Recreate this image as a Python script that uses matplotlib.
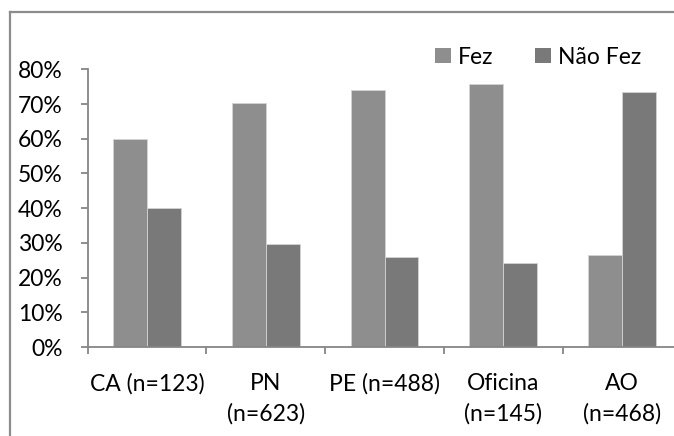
import matplotlib
matplotlib.use("Agg")
import matplotlib.pyplot as plt
import numpy as np
from matplotlib.lines import Line2D
from matplotlib.ticker import FuncFormatter

categories = ["CA (n=123)", "PN\n(n=623)", "PE (n=488)", "Oficina\n(n=145)", "AO\n(n=468)"]
fez = [60.0, 70.4, 74.0, 75.8, 26.5]
nao_fez = [40.0, 29.6, 26.0, 24.2, 73.5]
series_names = ["Fez", "Não Fez"]
yticks = [0, 10, 20, 30, 40, 50, 60, 70, 80]

plt.rcParams['font.family'] = ['Lato', 'DejaVu Sans']

W, H = 674, 436
fig = plt.figure(figsize=(W/100, H/100), dpi=100)

# outer chart border (cropped at right and bottom)
bx, by = 9.5/W, 1 - 12.5/H
fig.add_artist(Line2D([bx, bx], [-0.05, by], transform=fig.transFigure,
                      color='#8c8c8c', linewidth=1.6, solid_capstyle='projecting'))
fig.add_artist(Line2D([bx, 1.05], [by, by], transform=fig.transFigure,
                      color='#8c8c8c', linewidth=1.6, solid_capstyle='projecting'))

x0, x1 = 87.5, 681.5
y0, y1 = 347, 69.4
ax = fig.add_axes([x0/W, 1 - y0/H, (x1 - x0)/W, (y0 - y1)/H])

x = np.arange(len(categories))
w = 1/3.5
c1, c2 = '#8e8e8e', '#797979'
ax.bar(x - w/2, fez, w, color=c1, edgecolor='#d4d4d4', linewidth=0.6, label=series_names[0])
ax.bar(x + w/2, nao_fez, w, color=c2, edgecolor='#d4d4d4', linewidth=0.6, label=series_names[1])

ax.set_xlim(-0.5, len(categories) - 0.5)
ax.set_ylim(0, 80)
ax.set_yticks(yticks)
ax.yaxis.set_major_formatter(FuncFormatter(lambda v, p: f"{int(v)}%"))
ax.set_xticks(x)
ax.set_xticklabels(categories, linespacing=1.5)
ax.set_xticks(np.arange(len(categories) + 1) - 0.5, minor=True)
ax.tick_params(axis='x', which='major', length=0, pad=19, labelsize=16.5, colors='black')
ax.tick_params(axis='x', which='minor', length=5, width=1.3, color='#868686')
ax.tick_params(axis='y', length=5, width=1.3, color='#868686', pad=13, labelsize=16.5)

for s in ['top', 'right']:
    ax.spines[s].set_visible(False)
for s in ['left', 'bottom']:
    ax.spines[s].set_color('#868686')
    ax.spines[s].set_linewidth(1.3)

leg = fig.legend(loc='center left', bbox_to_anchor=(435/W, 1 - 57/H), ncol=2, frameon=False,
                 handlelength=0.7, handleheight=0.65, handletextpad=0.32, columnspacing=1.8,
                 fontsize=16.5, borderaxespad=0, borderpad=0)
for h in leg.legend_handles:
    h.set_edgecolor('none')

fig.savefig("out.png", dpi=100)
